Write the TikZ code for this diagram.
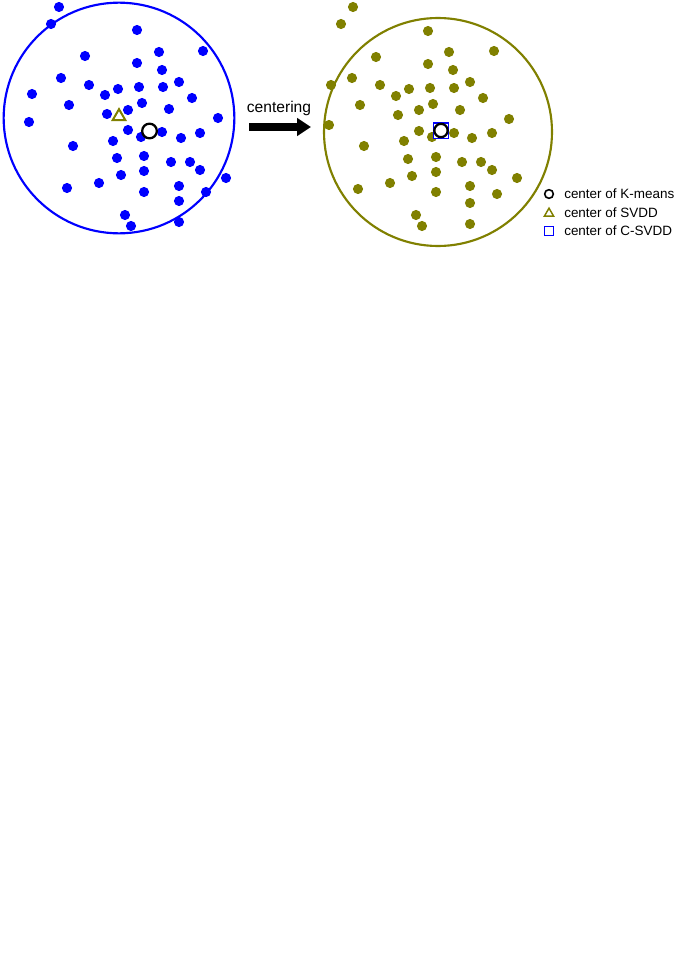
\documentclass[tikz,border=0pt]{standalone}
\usepackage{fontspec}
\setmainfont{Liberation Sans}
\usetikzlibrary{arrows.meta,shapes.geometric}
\definecolor{myolive}{RGB}{128,128,0}
\definecolor{myblue}{RGB}{0,0,255}
\tikzset{
  bdot/.style={fill=myblue},
  odot/.style={fill=myolive},
  kmark/.style={draw=black, fill=white, line width=1.7pt, circle, inner sep=0pt, minimum size=11pt},
  smark/.style={draw=myolive, fill=white, line width=1.5pt, regular polygon, regular polygon sides=3, inner sep=0pt, minimum size=11pt},
  cmark/.style={draw=myblue, fill=white, line width=1pt, rectangle, inner sep=0pt, minimum size=11.5pt},
  legk/.style={draw=black, line width=1.2pt, circle, inner sep=0pt, minimum size=6.5pt},
  legs/.style={draw=myolive, line width=1.1pt, regular polygon, regular polygon sides=3, inner sep=0pt, minimum size=8pt},
  legc/.style={draw=myblue, line width=1.1pt, rectangle, inner sep=0pt, minimum size=6.5pt},
  legtext/.style={anchor=west, font=\fontsize{10.1pt}{12pt}\selectfont, inner sep=0pt},
}
\begin{document}
\begin{tikzpicture}[x=0.75pt, y=-0.75pt]
\useasboundingbox (0,0) rectangle (676,956);
% left circle
\draw[myblue, line width=1.6pt] (119,118) circle[radius=86.5pt];
\foreach \p in {(59,7),(51,24),(137,30),(159,52),(203,51),(85,56),(137,63),(162,70),(61,78),(179,82),(89,85),(32,94),(118,89),(139,87),(163,87),(105,95),(192,98),(69,105),(142,103),(128,110),(169,109),(107,114),(218,118),(29,122),(128,130),(141,137),(162,132),(181,138),(200,133),(113,141),(73,146),(117,158),(144,156),(171,162),(190,162),(200,170),(144,171),(121,175),(99,183),(226,178),(67,188),(179,186),(144,192),(206,192),(179,201),(125,215),(131,226),(179,222)}
  \fill[bdot] \p circle[radius=3.8pt];
\node[smark] (svddL) at (119,116.5) {};
\node[kmark] (kmL) at (149.5,131) {};
% arrow and label
\coordinate (aS) at (249,127);
\coordinate (aE) at (311,127);
\draw[line width=6pt, -{Triangle[length=10.5pt, width=13pt]}] (aS) -- (aE);
\node[font=\fontsize{11.7pt}{14pt}\selectfont, inner sep=0pt] (cen) at (279,108) {centering};
% right circle
\draw[myolive, line width=1.6pt] (438,132) circle[radius=85.5pt];
\foreach \p in {(353,7),(341,24),(428,31),(449,52),(494,51),(376,57),(428,64),(453,70),(352,78),(331,85),(470,82),(380,85),(409,89),(430,88),(454,88),(396,96),(483,98),(360,105),(433,104),(419,110),(460,110),(398,115),(509,119),(329,125),(419,131),(432,137),(454,133),(472,138),(492,133),(404,141),(364,146),(408,159),(436,157),(462,162),(481,162),(492,170),(436,172),(412,176),(390,183),(517,178),(358,189),(470,186),(436,192),(497,194),(470,203),(416,215),(422,226),(470,224)}
  \fill[odot] \p circle[radius=3.8pt];
\node[cmark] (csvddR) at (441,130.5) {};
\node[kmark, minimum size=10pt] (kmR) at (441,130.5) {};
% legend
\node[legk] (lk) at (549,194) {};
\node[legs] (ls) at (549,213.5) {};
\node[legc] (lc) at (549,231) {};
\node[legtext] (tk) at (564,194) {center of K-means};
\node[legtext] (ts) at (564,212.5) {center of SVDD};
\node[legtext] (tc) at (564,230.5) {center of C-SVDD};
\end{tikzpicture}
\end{document}
